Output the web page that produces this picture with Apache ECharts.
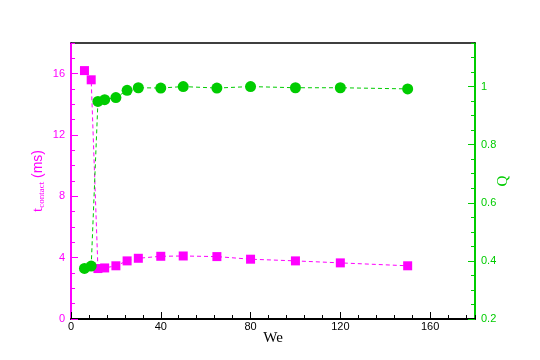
<!DOCTYPE html>
<html>
<head>
<meta charset="utf-8">
<script src="https://cdn.jsdelivr.net/npm/echarts@6/dist/echarts.min.js"></script>
<style>
  html, body { margin: 0; padding: 0; background: #fff; }
  #chart { width: 540px; height: 360px; }
</style>
</head>
<body>
<div id="chart"></div>
<script>
// We 数值
const weValues = [6, 9, 12, 15, 20, 25, 30, 40, 50, 65, 80, 100, 120, 150]
// 接触时间 t_contact (ms)
const tContact = [16.2, 15.6, 3.29, 3.33, 3.47, 3.79, 3.96, 4.09, 4.11, 4.07, 3.9, 3.79, 3.66, 3.47]
// Q
const qValues = [0.374, 0.382, 0.949, 0.955, 0.962, 0.987, 0.996, 0.995, 1.0, 0.995, 1.0, 0.996, 0.996, 0.992]

const magenta = '#ff00ff'
const green = '#00cc00'
const sans = 'Liberation Sans'
const serif = 'Liberation Serif'

const chart = echarts.init(document.getElementById('chart'))

const hidden = { show: false }
const line = (color, width) => ({ onZero: false, lineStyle: { color, width } })
const noLine = { show: false, onZero: false }

chart.setOption({
  animation: false,
  backgroundColor: '#fff',
  grid: { left: 71, right: 65, top: 43, bottom: 41 },
  xAxis: [
    {
      type: 'value',
      position: 'bottom',
      min: 0,
      max: 180,
      interval: 40,
      name: 'We',
      nameLocation: 'middle',
      nameGap: 12,
      nameMoveOverlap: false,
      nameTextStyle: { color: '#000', fontFamily: serif, fontSize: 15 },
      axisLine: line('#000', 2),
      axisTick: { inside: true, length: 7, lineStyle: { color: '#000', width: 1 } },
      axisLabel: { color: '#000', fontFamily: sans, fontSize: 11, margin: 2, showMaxLabel: false },
      splitLine: hidden
    },
    {
      // 小刻度
      type: 'value',
      position: 'bottom',
      min: 0,
      max: 180,
      interval: 8,
      axisLine: noLine,
      axisTick: { inside: true, length: 4, lineStyle: { color: '#000', width: 1 } },
      axisLabel: hidden,
      splitLine: hidden
    },
    {
      // 上边框
      type: 'value',
      position: 'top',
      min: 0,
      max: 180,
      axisLine: line('#000', 1.5),
      axisTick: hidden,
      axisLabel: hidden,
      splitLine: hidden
    }
  ],
  yAxis: [
    {
      type: 'value',
      position: 'left',
      min: 0,
      max: 18,
      interval: 4,
      name: '{t|t}{sub|contact}{ms| (ms)}',
      nameLocation: 'middle',
      nameRotate: 90,
      nameGap: 25,
      nameMoveOverlap: false,
      nameTextStyle: {
        color: magenta,
        rich: {
          t: { color: magenta, fontFamily: serif, fontSize: 15 },
          sub: { color: magenta, fontFamily: serif, fontSize: 9, verticalAlign: 'bottom', padding: [6, 0, 0, 0] },
          ms: { color: magenta, fontFamily: sans, fontSize: 14 }
        }
      },
      axisLine: line(magenta, 2),
      axisTick: { inside: true, length: 7, lineStyle: { color: magenta, width: 1 } },
      axisLabel: { color: magenta, fontFamily: sans, fontSize: 11, margin: 6, showMaxLabel: false },
      splitLine: hidden
    },
    {
      type: 'value',
      position: 'left',
      min: 0,
      max: 18,
      interval: 1,
      axisLine: noLine,
      axisTick: { inside: true, length: 4, lineStyle: { color: magenta, width: 1 } },
      axisLabel: hidden,
      splitLine: hidden
    },
    {
      type: 'value',
      position: 'right',
      min: 0.2,
      max: 1.15,
      interval: 0.2,
      name: 'Q',
      nameLocation: 'middle',
      nameRotate: 90,
      nameGap: 21,
      nameMoveOverlap: false,
      nameTextStyle: { color: green, fontFamily: serif, fontSize: 15 },
      axisLine: line(green, 2),
      axisTick: { inside: true, length: 7, lineStyle: { color: green, width: 1 } },
      axisLabel: {
        color: green, fontFamily: sans, fontSize: 11, margin: 6, showMaxLabel: false,
        formatter: v => String(+v.toFixed(2))
      },
      splitLine: hidden
    },
    {
      type: 'value',
      position: 'right',
      min: 0.2,
      max: 1.15,
      interval: 0.05,
      axisLine: noLine,
      axisTick: { inside: true, length: 4, lineStyle: { color: green, width: 1 } },
      axisLabel: hidden,
      splitLine: hidden
    }
  ],
  series: [
    {
      name: 't_contact',
      type: 'line',
      xAxisIndex: 0,
      yAxisIndex: 0,
      data: weValues.map((w, i) => [w, tContact[i]]),
      symbol: 'rect',
      symbolSize: 9,
      itemStyle: { color: magenta },
      lineStyle: { color: magenta, width: 1, type: [4, 3] }
    },
    {
      name: 'Q',
      type: 'line',
      xAxisIndex: 0,
      yAxisIndex: 2,
      data: weValues.map((w, i) => [w, qValues[i]]),
      symbol: 'circle',
      symbolSize: 11,
      itemStyle: { color: green },
      lineStyle: { color: green, width: 1, type: [4, 3] }
    }
  ]
})
</script>
</body>
</html>
